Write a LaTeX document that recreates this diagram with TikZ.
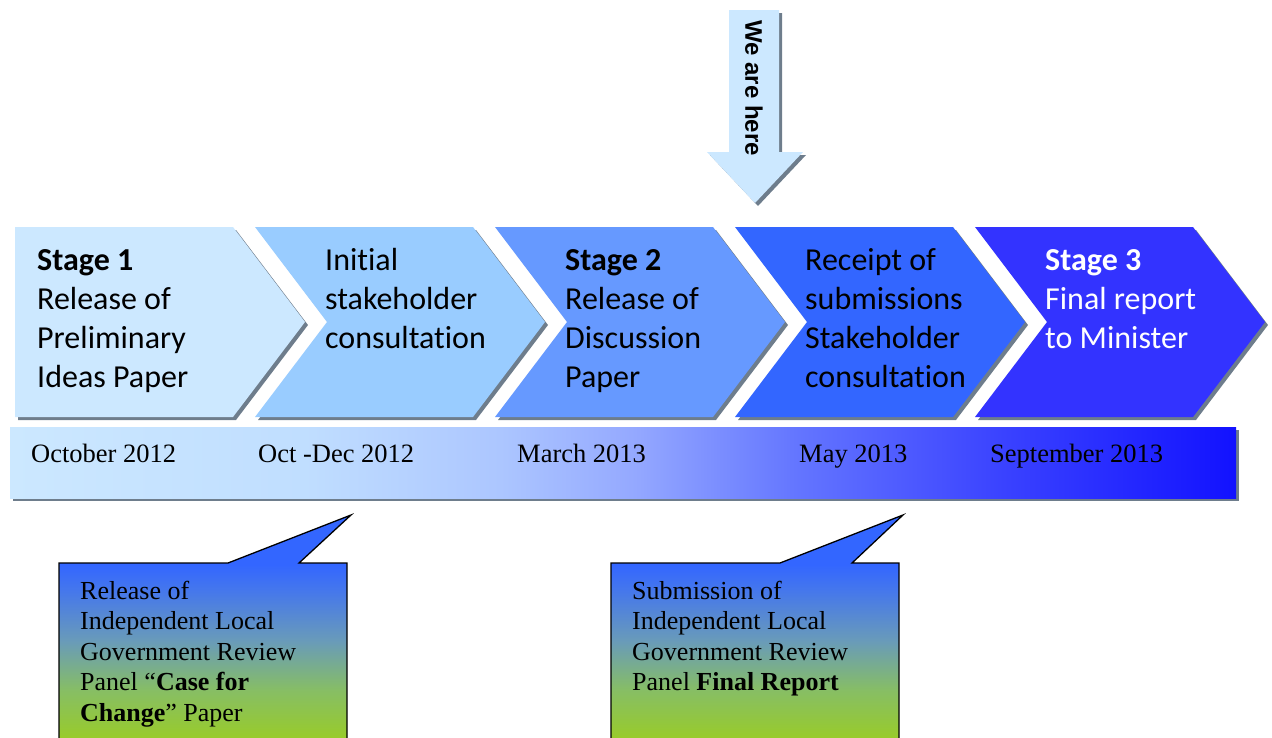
\documentclass[tikz,border=0pt]{standalone}
\usepackage{fontspec}
\newfontfamily\calibri[Ligatures=NoCommon]{Carlito}
\newfontfamily\tnr{Liberation Serif}
\newfontfamily\arialf{Liberation Sans}

% stage chevrons, light to dark
\definecolor{chevA}{RGB}{204,232,255}
\definecolor{chevB}{RGB}{153,204,255}
\definecolor{chevC}{RGB}{102,153,255}
\definecolor{chevD}{RGB}{51,102,255}
\definecolor{chevE}{RGB}{51,51,255}
\definecolor{shadowgray}{RGB}{110,125,140}
\definecolor{arrowfill}{RGB}{204,232,255}

% timeline bar colours
\definecolor{barA}{RGB}{204,232,255}
\definecolor{barB}{RGB}{192,222,255}
\definecolor{barC}{RGB}{172,198,255}
\definecolor{barD}{RGB}{148,168,255}
\definecolor{barE}{RGB}{100,118,255}
\definecolor{barF}{RGB}{58,66,255}
\definecolor{barG}{RGB}{18,18,255}

% note boxes: blue fading to green
\definecolor{noteA}{RGB}{51,102,255}
\definecolor{noteB}{RGB}{70,120,235}
\definecolor{noteC}{RGB}{105,155,185}
\definecolor{noteD}{RGB}{135,190,100}
\definecolor{noteE}{RGB}{153,204,40}

\pgfdeclarehorizontalshading{timebar}{100bp}{color(0bp)=(barA); color(25bp)=(barA);
  color(37bp)=(barB); color(45bp)=(barC); color(50.5bp)=(barD); color(57bp)=(barE);
  color(65.5bp)=(barF); color(75bp)=(barG); color(100bp)=(barG)}
\pgfdeclareverticalshading{notefade}{100bp}{color(0bp)=(noteE); color(25bp)=(noteE);
  color(36bp)=(noteD); color(47bp)=(noteC); color(58bp)=(noteB); color(64bp)=(noteA);
  color(100bp)=(noteA)}

\begin{document}
\begin{tikzpicture}[x=1pt,y=-1pt,
  % multi-line texts are anchored at their top; the strut fixes the first baseline
  stagetext/.style={anchor=north west, inner sep=0pt, align=left,
    font=\calibri\fontsize{32}{39}\selectfont},
  datetext/.style={anchor=base west, inner sep=0pt,
    font=\tnr\fontsize{26.5}{30}\selectfont},
  notetext/.style={anchor=north west, inner sep=0pt, align=left,
    font=\tnr\fontsize{26}{30.5}\selectfont},
  noteshape/.style={shading=notefade, draw=black, line width=1.3pt, line join=miter}]
\useasboundingbox (0,0) rectangle (1272,737);

% "We are here" marker arrow
\fill[shadowgray,shift={(3,3)}] (729,10) -- (779,10) -- (779,152) -- (803,152)
  -- (755,203) -- (707,152) -- (729,152) -- cycle;
\fill[arrowfill] (729,10) -- (779,10) -- (779,152) -- (803,152) -- (755,203)
  -- (707,152) -- (729,152) -- cycle;
\node[rotate=-90, inner sep=0pt, font=\arialf\bfseries\fontsize{24}{26}\selectfont]
  (here) at (754,88) {We are here};

% first stage chevron (flat left edge)
\fill[shadowgray,shift={(3,3)}] (15,227) -- (233,227) -- (305,322) -- (233,417)
  -- (15,417) -- cycle;
\fill[chevA] (15,227) -- (233,227) -- (305,322) -- (233,417) -- (15,417) -- cycle;

% remaining chevrons with notched left edge
\foreach \i/\c in {1/chevB,2/chevC,3/chevD,4/chevE}{
  \begin{scope}[xshift=240*\i]
    \fill[shadowgray,shift={(3,3)}] (15,227) -- (233,227) -- (305,322) -- (233,417)
      -- (15,417) -- (87,322) -- cycle;
    \fill[\c] (15,227) -- (233,227) -- (305,322) -- (233,417) -- (15,417)
      -- (87,322) -- cycle;
  \end{scope}
}

% stage texts (first baseline at y = 270)
\node[stagetext] (s1) at (37,242.7) {\strut\textbf{Stage 1}\\Release of\\Preliminary\\Ideas Paper};
\node[stagetext] (s2) at (325,242.7) {\strut Initial\\stakeholder\\consultation};
\node[stagetext] (s3) at (565,242.7) {\strut\textbf{Stage 2}\\Release of\\Discussion\\Paper};
\node[stagetext] (s4) at (805,242.7) {\strut Receipt of\\submissions\\Stakeholder\\consultation};
\node[stagetext, text=white] (s5) at (1045,242.7) {\strut\textbf{Stage 3}\\Final report\\to Minister};

% timeline bar
\fill[shadowgray] (13,430) rectangle (1239,501);
\shade[shading=timebar] (10,427) rectangle (1236,498);
\node[datetext] (d1) at (31,462) {October 2012};
\node[datetext] (d2) at (258,462) {Oct -Dec 2012};
\node[datetext] (d3) at (517,462) {March 2013};
\node[datetext] (d4) at (799,462) {May 2013};
\node[datetext] (d5) at (990,462) {September 2013};

% callout notes (first baseline at y = 599)
\path[noteshape] (59,563) -- (228,563) -- (351,515) -- (299,563) -- (347,563)
  -- (347,740) -- (59,740) -- cycle;
\node[notetext] (n1) at (80,577.6) {\strut Release of\\Independent Local\\Government Review\\
  Panel “\textbf{Case for}\\\textbf{Change}” Paper};

\path[noteshape] (611,563) -- (780,563) -- (903,515) -- (852,563) -- (899,563)
  -- (899,740) -- (611,740) -- cycle;
\node[notetext] (n2) at (632,577.6) {\strut Submission of\\Independent Local\\Government Review\\
  Panel \textbf{Final Report}};
\end{tikzpicture}
\end{document}
